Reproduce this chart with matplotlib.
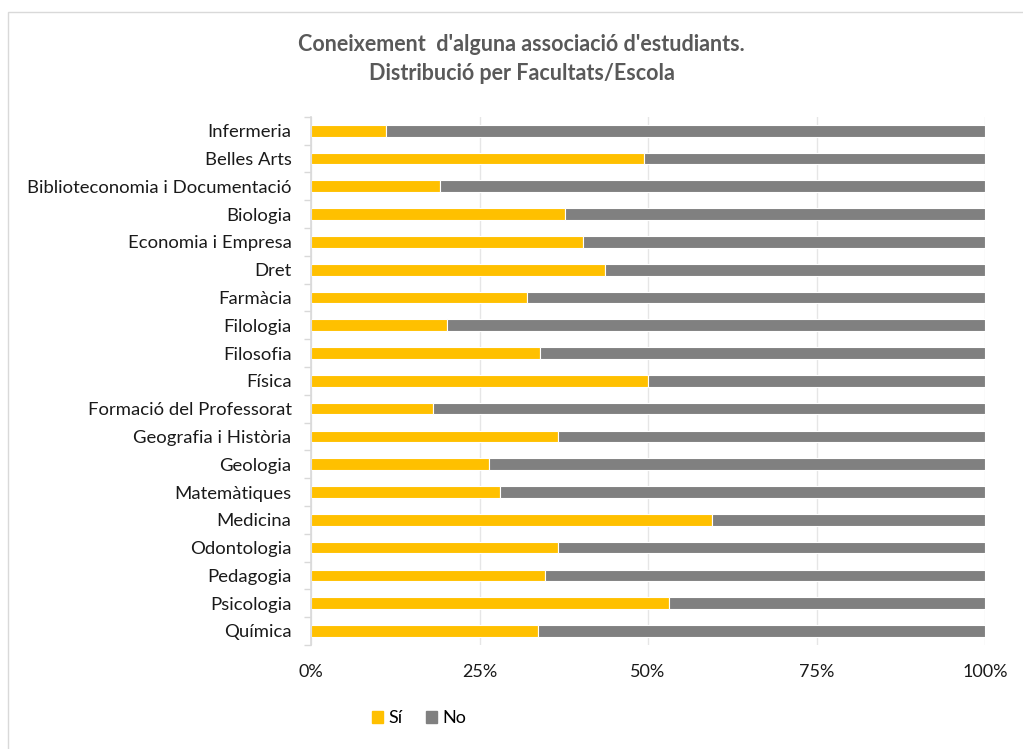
import matplotlib.pyplot as plt
import numpy as np
from matplotlib.patches import Rectangle, Patch

plt.rcParams['font.family'] = ['Lato', 'DejaVu Sans']

facultats = ['Infermeria', 'Belles Arts', 'Biblioteconomia i Documentació', 'Biologia',
             'Economia i Empresa', 'Dret', 'Farmàcia', 'Filologia', 'Filosofia', 'Física',
             'Formació del Professorat', 'Geografia i Història', 'Geologia', 'Matemàtiques',
             'Medicina', 'Odontologia', 'Pedagogia', 'Psicologia', 'Química']
si = [11.1, 49.4, 19.2, 37.7, 40.3, 43.6, 32.1, 20.2, 33.9, 50.0,
      18.1, 36.7, 26.4, 28.0, 59.5, 36.7, 34.7, 53.1, 33.6]
no = [100 - v for v in si]

fig = plt.figure(figsize=(10.23, 7.49), dpi=100)
ax = fig.add_axes([0.304, 0.139, 0.659, 0.705])

y = np.arange(len(facultats))
ax.barh(y, si, height=0.42, color='#FFC000', edgecolor='white', linewidth=0.8, label='Sí')
ax.barh(y, no, left=si, height=0.42, color='#808080', edgecolor='white', linewidth=0.8, label='No')

ax.set_xlim(0, 100)
ax.set_ylim(len(facultats) - 0.5, -0.5)
ax.set_yticks(y)
ax.set_yticklabels(facultats, fontsize=13.3, color='#1a1a1a')
ax.set_yticks(np.arange(-0.5, len(facultats), 1), minor=True)
ax.tick_params(axis='y', which='major', length=0, pad=14)
ax.tick_params(axis='y', which='minor', length=5, color='#D9D9D9', width=1)
ax.set_xticks([0, 25, 50, 75, 100])
ax.set_xticklabels(['0%', '25%', '50%', '75%', '100%'], fontsize=13, color='#1a1a1a')
ax.tick_params(axis='x', length=0, pad=14)
ax.grid(axis='x', color='#E6E6E6', linewidth=1)
ax.set_axisbelow(True)
for s in ['top', 'right', 'bottom']:
    ax.spines[s].set_visible(False)
ax.spines['left'].set_color('#D9D9D9')
ax.spines['left'].set_linewidth(1.2)

fig.text(0.51, 0.921, "Coneixement  d'alguna associació d'estudiants.\nDistribució per Facultats/Escola",
         ha='center', va='center', fontsize=15.5, fontweight='bold', color='#595959', linespacing=1.45)

handles = [Patch(color='#FFC000', label='Sí'), Patch(color='#808080', label='No')]
fig.legend(handles=handles, loc='center', bbox_to_anchor=(0.41, 0.041), ncol=2, frameon=False,
           fontsize=13, handlelength=0.6, handleheight=0.6, handletextpad=0.3, columnspacing=1.3)

fig.patches.append(Rectangle((0.008, -0.01), 0.995, 0.994, transform=fig.transFigure,
                             fill=False, edgecolor='#D9D9D9', linewidth=1))

fig.savefig('out.png', dpi=100)
